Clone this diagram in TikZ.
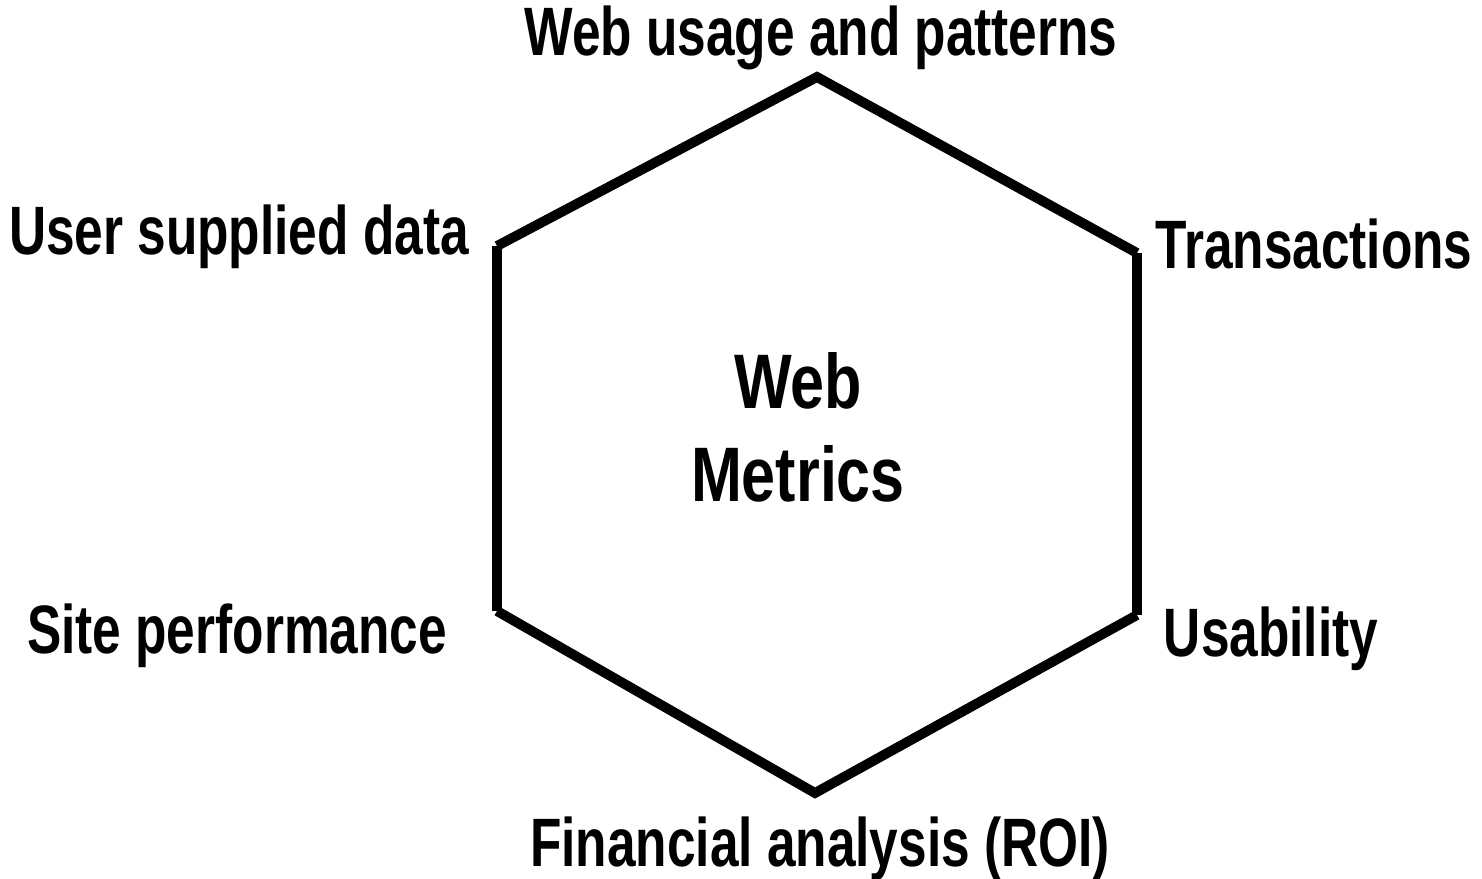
\documentclass[tikz,border=0pt]{standalone}
\usepackage{fontspec}
\setmainfont{Liberation Sans}
\newfontfamily\lblfont{Liberation Sans}[FakeStretch=0.75]
\newfontfamily\ctrfont{Liberation Sans}[FakeStretch=0.79]
\begin{document}
\begin{tikzpicture}[x=0.02cm,y=-0.02cm,
  lbl/.style={font=\lblfont\bfseries\fontsize{39}{46}\selectfont, inner sep=0pt, anchor=base},
  ctr/.style={font=\ctrfont\bfseries\fontsize{44}{52}\selectfont, inner sep=0pt, anchor=base},
  hex/.style={line width=5.6pt, line join=miter, line cap=butt}]
\useasboundingbox (0,0) rectangle (1482,879);
\coordinate (t) at (817,77);
\coordinate (ur) at (1137,253);
\coordinate (lr) at (1137,615);
\coordinate (b) at (815,793);
\coordinate (ll) at (497,611);
\coordinate (ul) at (497,246);
\draw[hex] (ul) -- (t) -- (ur);
\draw[hex] (ur) -- (lr);
\draw[hex] (lr) -- (b) -- (ll);
\draw[hex] (ll) -- (ul);
\node[lbl] (wu) at (821,55) {Web usage and patterns};
\node[lbl] (us) at (239,254) {User supplied data};
\node[lbl] (tr) at (1314,268) {Transactions};
\node[lbl] (sp) at (237,653) {Site performance};
\node[lbl] (ub) at (1271,656) {Usability};
\node[lbl] (fa) at (820,866) {Financial analysis (ROI)};
\node[ctr] (w) at (798,408) {Web};
\node[ctr] (m) at (798,501) {Metrics};
\end{tikzpicture}
\end{document}
